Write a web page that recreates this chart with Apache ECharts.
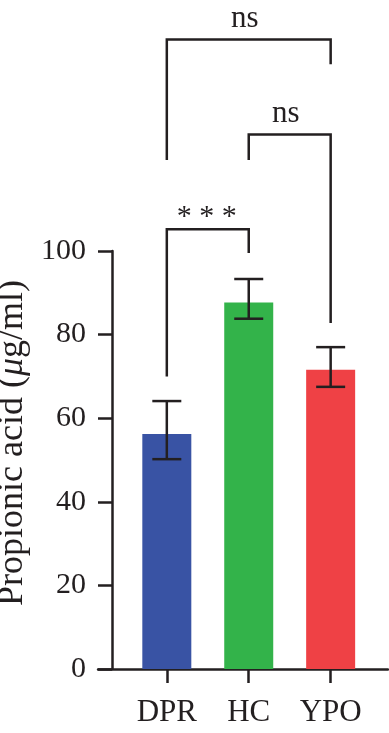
<!DOCTYPE html>
<html>
<head>
<meta charset="utf-8">
<script src="https://cdn.jsdelivr.net/npm/echarts@6/dist/echarts.min.js"></script>
<style>html,body{margin:0;padding:0;background:#fff}#c{width:389px;height:733px}</style>
</head>
<body>
<div id="c"></div>
<script>
var categories = ['DPR', 'HC', 'YPO'];
var means = [56.2, 87.7, 71.6];
var errLow = [50.2, 83.8, 67.5];
var errHigh = [64.1, 93.3, 77.0];
var barColors = ['#3953a4', '#33b34a', '#ef4145'];
var yTicks = [0, 20, 40, 60, 80, 100];
// significance brackets: [left group, right group]
var bracketPairs = [[0, 1], [1, 2], [0, 2]];
var bracketTop = [105.2, 127.9, 150.6];
var bracketLeftEnd = [70.0, 121.8, 121.8];
var bracketRightEnd = [99.5, 82.8, 144.7];
var bracketLabels = ['***', 'ns', 'ns'];

var FONT = 'Liberation Serif';
var chart = echarts.init(document.getElementById('c'));

var barData = means.map(function (v, i) {
  return { value: [i, v], itemStyle: { color: barColors[i] } };
});
var errData = means.map(function (v, i) { return [i, errLow[i], errHigh[i]]; });
var brData = bracketPairs.map(function (p, i) {
  return [p[0], p[1], bracketTop[i], bracketLeftEnd[i], bracketRightEnd[i], i];
});

chart.setOption({
  animation: false,
  grid: { left: 98, right: 1, top: 251, bottom: 64, outerBoundsMode: 'none', containLabel: false },
  xAxis: {
    type: 'value', min: -0.84, max: 2.7,
    splitLine: { show: false },
    axisLine: { show: true, onZero: false, lineStyle: { color: '#231f20', width: 2.5 } },
    axisTick: { show: true, customValues: [0, 1, 2], length: 14, lineStyle: { color: '#231f20', width: 2.5 } },
    axisLabel: {
      customValues: [0, 1, 2], margin: 28,
      formatter: function (v) { return categories[Math.round(v)]; },
      fontFamily: FONT, fontSize: 31, color: '#231f20'
    }
  },
  yAxis: {
    type: 'value', min: 0, max: 100, interval: 20, offset: -14,
    splitLine: { show: false },
    axisLine: { show: true, onZero: false, lineStyle: { color: '#231f20', width: 2.5 } },
    axisTick: { show: true, length: 14, lineStyle: { color: '#231f20', width: 2.5 } },
    axisLabel: { margin: 26, fontFamily: FONT, fontSize: 30, color: '#231f20' },
    name: 'Propionic acid ({mu|\u03bc}g/ml)',
    nameLocation: 'middle', nameGap: 77,
    nameTextStyle: { fontFamily: FONT, fontSize: 36, color: '#231f20', padding: [0, 0, 0, 34],
      rich: { mu: { fontFamily: FONT, fontSize: 36, fontStyle: 'italic', color: '#231f20' } } }
  },
  series: [
    { type: 'bar', data: barData, barWidth: 49, z: 1 },
    {
      type: 'custom', z: 5, clip: false, data: errData,
      renderItem: function (params, api) {
        var lo = api.coord([api.value(0), api.value(1)]);
        var hi = api.coord([api.value(0), api.value(2)]);
        var hw = 14.5;
        var st = { stroke: '#231f20', lineWidth: 2.5 };
        return { type: 'group', children: [
          { type: 'line', shape: { x1: lo[0], y1: lo[1], x2: hi[0], y2: hi[1] }, style: st },
          { type: 'line', shape: { x1: lo[0] - hw, y1: lo[1], x2: lo[0] + hw, y2: lo[1] }, style: st },
          { type: 'line', shape: { x1: hi[0] - hw, y1: hi[1], x2: hi[0] + hw, y2: hi[1] }, style: st }
        ]};
      }
    },
    {
      type: 'custom', z: 5, clip: false, data: brData,
      renderItem: function (params, api) {
        var idx = api.value(5);
        var l0 = api.coord([api.value(0), api.value(3)]);
        var l1 = api.coord([api.value(0), api.value(2)]);
        var r1 = api.coord([api.value(1), api.value(2)]);
        var r0 = api.coord([api.value(1), api.value(4)]);
        var lab = bracketLabels[idx];
        var isStar = lab.indexOf('*') >= 0;
        return { type: 'group', children: [
          { type: 'polyline', shape: { points: [l0, l1, r1, r0] },
            style: { stroke: '#231f20', lineWidth: 2.5, fill: null } },
          { type: 'text', x: (l1[0] + r1[0]) / 2 - (isStar ? 1 : 4), y: l1[1] - (isStar ? -3 : 5),
            style: { text: isStar ? '* * *' : lab, fontFamily: FONT, fontSize: isStar ? 30 : 31, fill: '#231f20',
              align: 'center', verticalAlign: 'bottom' } }
        ]};
      }
    }
  ]
});
</script>
</body>
</html>
